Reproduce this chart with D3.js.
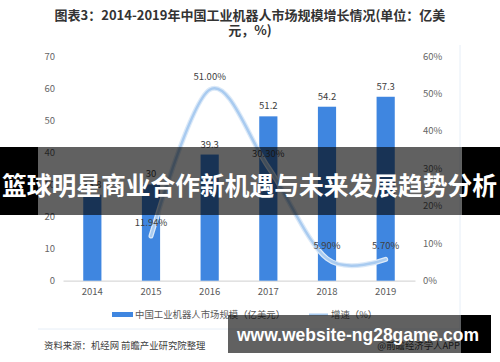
<!DOCTYPE html>
<html><head><meta charset="utf-8">
<script src="https://cdn.jsdelivr.net/npm/d3@7/dist/d3.min.js"></script>
<style>body{margin:0;background:#fff}svg{display:block}</style>
</head><body>
<svg id="c" width="500" height="362"></svg>
<script>
const years = ["2014","2015","2016","2017","2018","2019"];
const marketSize = [26.8, 30, 39.3, 51.2, 54.2, 57.3];
const marketLabels = ["26.8","30","39.3","51.2","54.2","57.3"];
const growth = [null, 11.94, 51.00, 30.30, 5.90, 5.70];
const growthLabels = ["", "11.94%", "51.00%", "30.30%", "5.90%", "5.70%"];
const leftTicks = [0,10,20,30,40,50,60,70];
const rightTicks = [0,10,20,30,40,50,60];
const titleLines = ["图表3：2014-2019年中国工业机器人市场规模增长情况(单位：亿美", "元，%)"];
const legendItems = ["中国工业机器人市场规模（亿美元）", "增速（%）"];
const sourceText = "资料来源：机经网 前瞻产业研究院整理";
const creditText = "@前瞻经济学人APP";
const bannerText = "篮球明星商业合作新机遇与未来发展趋势分析";
const urlText = "www.website-ng28game.com";

const svg = d3.select("#c");
const font = "'Noto Sans CJK SC','Noto Sans',sans-serif";
const x = d3.scaleBand().domain(years).range([63, 415]).paddingInner(0.69).paddingOuter(0.345);
const yL = d3.scaleLinear().domain([0, 70]).range([280.7, 56]);
const yR = d3.scaleLinear().domain([0, 60]).range([280.7, 56]);

// title
svg.selectAll(".title").data(titleLines).join("text")
  .attr("x", 250).attr("y", (d,i)=>20 + i*15).attr("text-anchor","middle")
  .attr("font-family", font).attr("font-weight","bold").attr("font-size", 13).attr("fill","#333")
  .text(d=>d);

// frame lines
svg.append("line").attr("x1",460).attr("x2",460).attr("y1",45).attr("y2",329).attr("stroke","#e6eef7");
svg.append("line").attr("x1",38).attr("x2",460).attr("y1",329).attr("y2",329).attr("stroke","#e6eef7");

// left axis
const gL = svg.append("g").attr("transform","translate(63,0)")
  .call(d3.axisLeft(yL).tickValues(leftTicks).tickSize(0).tickPadding(8));
gL.select(".domain").remove();
gL.selectAll("text").attr("font-family",font).attr("font-size",9.5).attr("fill","#666");

// right axis
const gR = svg.append("g").attr("transform","translate(415,0)")
  .call(d3.axisRight(yR).tickValues(rightTicks).tickSize(0).tickPadding(8).tickFormat(d=>d+"%"));
gR.select(".domain").remove();
gR.selectAll("text").attr("font-family",font).attr("font-size",9.5).attr("fill","#666");

// bottom axis
const gB = svg.append("g").attr("transform","translate(0,280.7)")
  .call(d3.axisBottom(x).tickSize(0).tickPadding(8));
gB.select(".domain").attr("stroke","#d9d9d9").attr("stroke-width",1.2);
gB.selectAll("text").attr("font-family",font).attr("font-size",9.5).attr("fill","#595959");

// bars
svg.selectAll(".bar").data(years).join("rect")
  .attr("x", d=>x(d)).attr("width", x.bandwidth())
  .attr("y", (d,i)=>yL(marketSize[i])).attr("height", (d,i)=>yL(0)-yL(marketSize[i]))
  .attr("fill","#3f86e0");
svg.selectAll(".bl").data(years).join("text")
  .attr("x", d=>x(d)+x.bandwidth()/2).attr("y",(d,i)=>yL(marketSize[i])-7)
  .attr("text-anchor","middle").attr("font-family",font).attr("font-size",9.5).attr("fill","#404040")
  .text((d,i)=>marketLabels[i]);

// line
const pts = years.map((d,i)=>({d, v: growth[i]})).filter(p=>p.v!==null);
const line = d3.line().x(p=>x(p.d)+x.bandwidth()/2).y(p=>yR(p.v)).curve(d3.curveCatmullRom.alpha(0));
svg.append("path").datum(pts).attr("d", line).attr("fill","none")
  .attr("stroke","#dbe9f8").attr("stroke-width",5).attr("stroke-linecap","round");
svg.append("path").datum(pts).attr("d", line).attr("fill","none")
  .attr("stroke","#a9cbf0").attr("stroke-width",2.5).attr("stroke-linecap","round");
svg.selectAll(".ll").data(pts).join("text")
  .attr("x", p=>x(p.d)+x.bandwidth()/2).attr("y", p=>yR(p.v)-10)
  .attr("text-anchor","middle").attr("font-family",font).attr("font-size",9.5).attr("fill","#404040")
  .text(p=>growthLabels[years.indexOf(p.d)]);

// legend
svg.append("rect").attr("x",112).attr("y",312).attr("width",21).attr("height",5).attr("fill","#3f86e0");
svg.append("text").attr("x",135).attr("y",318).attr("font-family",font).attr("font-size",9.4).attr("fill","#595959").text(legendItems[0]);
svg.append("line").attr("x1",309).attr("x2",328).attr("y1",314.5).attr("y2",314.5).attr("stroke","#a9cbf0").attr("stroke-width",2);
svg.append("text").attr("x",331).attr("y",318).attr("font-family",font).attr("font-size",9.4).attr("fill","#595959").text(legendItems[1]);

// source
svg.append("text").attr("x",44).attr("y",349).attr("font-family",font).attr("font-size",9.4).attr("fill","#404040").text(sourceText);
svg.append("text").attr("x",460).attr("y",349).attr("text-anchor","end").attr("font-family",font).attr("font-size",9.4).attr("fill","#404040").text(creditText);

// overlay banner
svg.append("rect").attr("x",0).attr("y",147).attr("width",38).attr("height",68).attr("fill","#000");
svg.append("rect").attr("x",462).attr("y",147).attr("width",38).attr("height",68).attr("fill","#000");
svg.append("rect").attr("x",38).attr("y",147).attr("width",424).attr("height",68).attr("fill","rgba(0,0,0,0.62)");
svg.append("text").attr("x",2).attr("y",195).attr("textLength",495).attr("lengthAdjust","spacingAndGlyphs")
  .attr("font-family",font).attr("font-weight","bold").attr("font-size",24.5).attr("fill","#fff").text(bannerText);

// bottom url banner
svg.append("rect").attr("x",228).attr("y",315).attr("width",233).attr("height",38).attr("fill","rgba(0,0,0,0.62)");
svg.append("rect").attr("x",461).attr("y",315).attr("width",30).attr("height",38).attr("fill","#000");
svg.append("text").attr("x",237).attr("y",341).attr("textLength",242).attr("lengthAdjust","spacingAndGlyphs")
  .attr("font-family","'Liberation Sans',Arial,sans-serif").attr("font-weight","bold").attr("font-size",19).attr("fill","#fff").text(urlText);
</script>
</body></html>
